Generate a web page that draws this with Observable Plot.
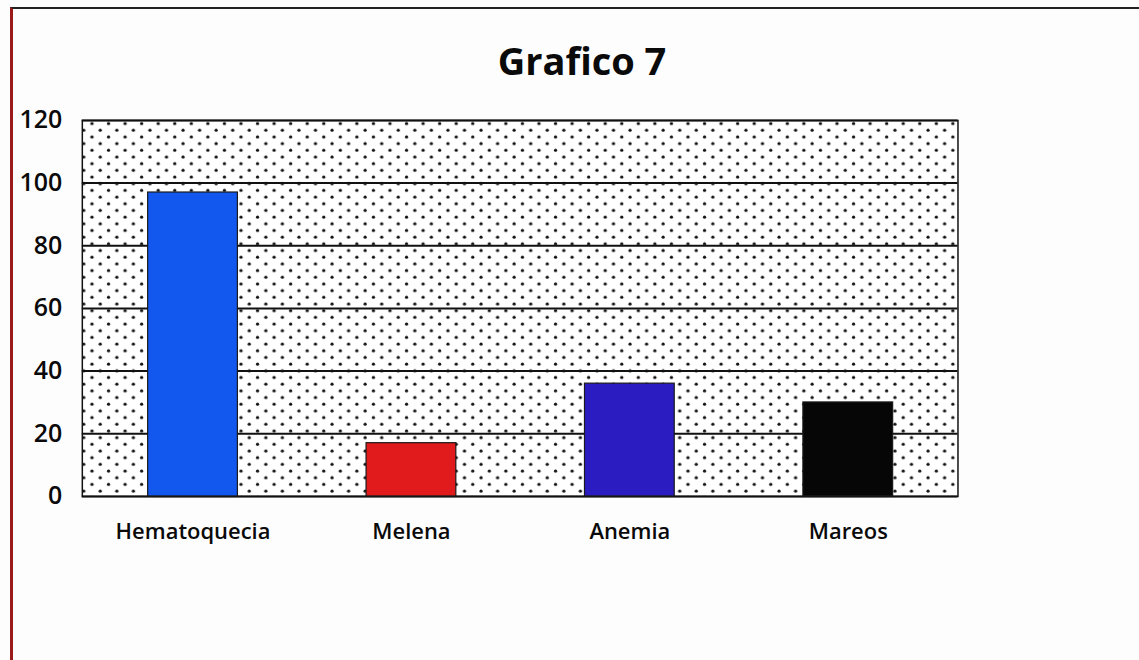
<!DOCTYPE html>
<html>
<head>
<meta charset="utf-8">
<script src="https://cdn.jsdelivr.net/npm/d3@7"></script>
<script src="https://cdn.jsdelivr.net/npm/@observablehq/plot@0.6"></script>
<style>
  html, body { margin: 0; padding: 0; background: #fdfdfd; }
  #page {
    position: relative;
    box-sizing: border-box;
    border-left: 3px solid #9a1a1a;
    border-top: 2px solid #222;
    margin-left: 10px; width: 1129px;
    margin-top: 7px; height: 653px;
    font-family: "Open Sans", sans-serif;
  }
  #title {
    height: 91px; line-height: 102px; text-align: center;
    font-size: 38px; font-weight: 700; color: #0a0a0a;
    padding-left: 12px;
  }
  svg { display: block; }
</style>
</head>
<body>
<div id="page">
  <div id="title">Grafico 7</div>
  <div id="chart"></div>
</div>
<script>
// Síntomas y número de pacientes
const categorias = ["Hematoquecia", "Melena", "Anemia", "Mareos"];
const valores = [97, 17, 36, 30];
const colores = ["#1257ee", "#e11b1b", "#2a1cc0", "#060606"];
const ticksY = [0, 20, 40, 60, 80, 100, 120];

const datos = categorias.map((c, i) => ({categoria: c, valor: valores[i], color: colores[i]}));

const chart = Plot.plot({
  width: 1129,
  height: 562,
  marginTop: 20,
  marginLeft: 69,
  marginRight: 182,
  marginBottom: 165,
  style: {fontFamily: "Open Sans, sans-serif", color: "#0a0a0a", background: "transparent"},
  x: {domain: categorias, label: null, paddingInner: 0.59, paddingOuter: 0.295},
  y: {domain: [0, 120], label: null},
  marks: [
    Plot.frame({fill: "url(#puntos)", stroke: "none"}),
    Plot.gridY(ticksY, {stroke: "#111", strokeOpacity: 1, strokeWidth: 2}),
    Plot.frame({stroke: "#111", strokeWidth: 1.5}),
    Plot.barY(datos, {x: "categoria", y: "valor", fill: "color", stroke: "#1a1a1a", strokeWidth: 1.2}),
    Plot.axisY(ticksY, {tickSize: 0, tickPadding: 20, fontSize: 25, fontWeight: 600, label: null}),
    Plot.axisX({tickSize: 0, tickPadding: 27, fontSize: 22, fontWeight: 600, label: null})
  ]
});

// Trama de puntos al tresbolillo para el fondo del área de trazado
const svg = d3.select(chart);
const pat = svg.insert("defs", ":first-child")
  .append("pattern")
  .attr("id", "puntos")
  .attr("patternUnits", "userSpaceOnUse")
  .attr("width", 16.6).attr("height", 13.4);
pat.append("rect").attr("width", 16.6).attr("height", 13.4).attr("fill", "#fff");
pat.append("circle").attr("cx", 4).attr("cy", 3).attr("r", 1.6).attr("fill", "#111");
pat.append("circle").attr("cx", 12.3).attr("cy", 9.7).attr("r", 1.6).attr("fill", "#111");

document.getElementById("chart").appendChild(chart);
</script>
</body>
</html>
